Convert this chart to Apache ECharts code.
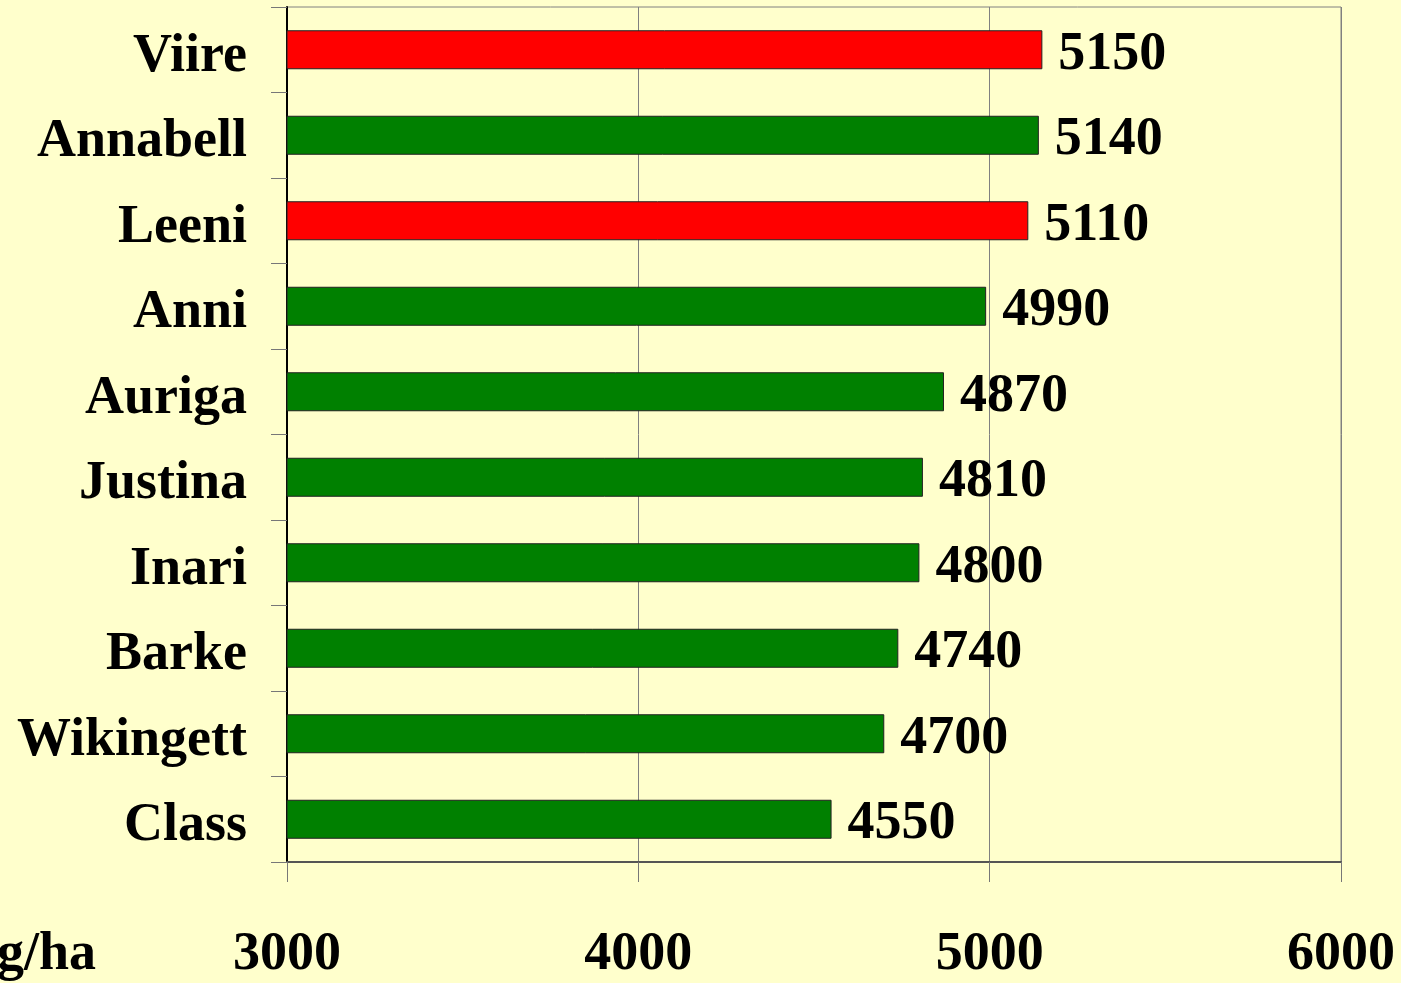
<!DOCTYPE html>
<html>
<head>
<meta charset="utf-8">
<title>Yield</title>
<script src="https://cdn.jsdelivr.net/npm/echarts@6/dist/echarts.min.js"></script>
<style>
  html, body { margin: 0; padding: 0; background: #FFFFCC; }
  #main { width: 1401px; height: 983px; }
</style>
</head>
<body>
<div id="main"></div>
<script>
// varieties top to bottom
var varieties = ['Viire', 'Annabell', 'Leeni', 'Anni', 'Auriga', 'Justina', 'Inari', 'Barke', 'Wikingett', 'Class'];
var yields = [5150, 5140, 5110, 4990, 4870, 4810, 4800, 4740, 4700, 4550];
var highlighted = ['Viire', 'Leeni'];
var axisTicks = [3000, 4000, 5000, 6000];

var FONT = '"Liberation Serif", "Times New Roman", serif';

var barData = [];
for (var i = 0; i < yields.length; i++) {
    barData.push({
        value: yields[i],
        itemStyle: {
            color: highlighted.indexOf(varieties[i]) >= 0 ? '#FF0000' : '#008000'
        }
    });
}

var myChart = echarts.init(document.getElementById('main'));
var option = {
    backgroundColor: '#FFFFCC',
    animation: false,
    grid: {
        left: 287,
        right: 60,
        top: 7,
        bottom: 121,
        show: true,
        borderColor: '#808080',
        borderWidth: 1
    },
    xAxis: {
        type: 'value',
        min: axisTicks[0],
        max: axisTicks[axisTicks.length - 1],
        interval: 1000,
        axisLine: {show: true, lineStyle: {color: '#555555', width: 2}},
        axisTick: {show: true, length: 20, lineStyle: {color: '#777777'}},
        splitLine: {show: true, lineStyle: {color: '#808080', width: 1}},
        axisLabel: {
            margin: 66,
            color: '#000',
            fontFamily: FONT,
            fontWeight: 'bold',
            fontSize: 54,
            formatter: function (v) {
                return String(v);
            }
        }
    },
    yAxis: {
        type: 'category',
        inverse: true,
        data: varieties,
        axisLine: {show: true, lineStyle: {color: '#000', width: 2}},
        axisTick: {show: true, length: 16, lineStyle: {color: '#777777'}},
        axisLabel: {
            margin: 40,
            formatter: '{a|{value}}',
            rich: {
                a: {
                    color: '#000',
                    fontFamily: FONT,
                    fontWeight: 'bold',
                    fontSize: 54,
                    padding: [14, 0, 0, 0]
                }
            }
        }
    },
    graphic: [{
        type: 'text',
        right: 1401 - 96,
        top: 928,
        style: {
            text: 'kg/ha',
            fill: '#000',
            font: 'bold 54px ' + FONT
        }
    }],
    series: [{
        type: 'bar',
        data: barData,
        barWidth: 39,
        itemStyle: {borderColor: '#222', borderWidth: 1},
        label: {
            show: true,
            position: 'right',
            distance: 16,
            offset: [0, 5],
            color: '#000',
            fontFamily: FONT,
            fontWeight: 'bold',
            fontSize: 54
        }
    }]
};
myChart.setOption(option);
</script>
</body>
</html>
